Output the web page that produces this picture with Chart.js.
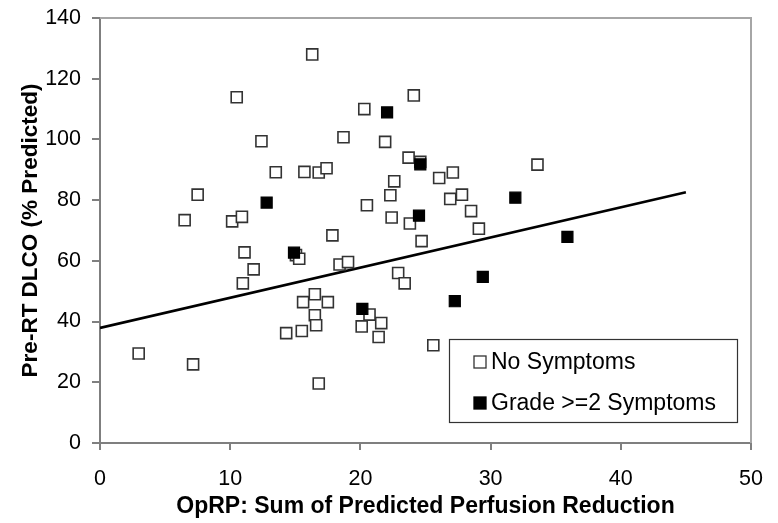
<!DOCTYPE html>
<html>
<head>
<meta charset="utf-8">
<script src="https://cdn.jsdelivr.net/npm/chart.js@4.4.0/dist/chart.umd.min.js"></script>
<style>
  html, body { margin: 0; padding: 0; background: #fff; }
  #wrap { width: 778px; height: 523px; }
</style>
</head>
<body>
<div id="wrap"><canvas id="chart-dlco" width="778" height="523"></canvas></div>
<script>
// === datos ===
const seriesLabels = ['No Symptoms', 'Grade >=2 Symptoms'];

const noSympX = [16.3, 10.5, 12.4, 18.7, 13.5, 15.7, 16.8, 17.4, 7.5, 6.5, 10.15, 10.9,
  24.1, 20.3, 21.9, 23.7, 24.6, 22.6, 22.3, 20.5, 26.05, 27.1, 33.6, 26.9, 27.8, 28.5,
  22.4, 23.8, 29.1, 11.1, 11.8, 10.97, 15.05, 15.3, 17.85, 18.4, 19.05, 16.5, 15.6, 17.5,
  16.5, 16.6, 14.3, 15.5, 2.97, 7.15, 16.8, 24.7, 22.9, 23.4, 20.7, 20.1, 21.6, 21.4, 25.6];
const noSympY = [128, 113.9, 99.4, 100.7, 89.2, 89.3, 89.1, 90.5, 81.8, 73.4, 73.0, 74.5,
  114.5, 110, 99.2, 94.0, 92.6, 86.2, 81.6, 78.3, 87.3, 89.1, 91.7, 80.4, 81.8, 76.4,
  74.3, 72.3, 70.6, 62.8, 57.2, 52.6, 61.9, 60.7, 68.4, 58.8, 59.6, 49.0, 46.4, 46.4,
  42.1, 38.8, 36.2, 36.9, 29.5, 25.9, 19.6, 66.5, 56.0, 52.6, 42.3, 38.4, 39.5, 34.9, 32.2];

const gradeX = [12.8, 22.05, 24.6, 31.9, 24.5, 14.9, 35.9, 29.4, 27.25, 20.15];
const gradeY = [79.2, 108.9, 91.8, 80.8, 74.9, 62.7, 67.9, 54.7, 46.7, 44.2];

// linea de tendencia
const fitX = [0, 45];
const fitY = [37.9, 82.6];

const xTicks = [0, 10, 20, 30, 40, 50];
const yTicks = [0, 20, 40, 60, 80, 100, 120, 140];

const FONT = "'Liberation Sans', Arial, sans-serif";
const toPoints = (xs, ys) => xs.map((x, i) => ({ x: x, y: ys[i] }));

// marco superior/derecho y leyenda con recuadro
const framePlugin = {
  id: 'frame',
  beforeDatasetsDraw(chart) {
    const { ctx, chartArea: a } = chart;
    ctx.save();
    ctx.strokeStyle = '#a6a6a6';
    ctx.lineWidth = 2;
    ctx.beginPath();
    ctx.moveTo(a.left, a.top);
    ctx.lineTo(a.right, a.top);
    ctx.lineTo(a.right, a.bottom);
    ctx.stroke();
    ctx.restore();
  },
  afterDraw(chart) {
    const { ctx, chartArea: a } = chart;
    const right = a.right - 14, bottom = a.bottom - 21;
    const w = 288, h = 83;
    const left = right - w, top = bottom - h;
    ctx.save();
    ctx.fillStyle = '#fff';
    ctx.fillRect(left, top, w, h);
    ctx.strokeStyle = '#333';
    ctx.lineWidth = 1.2;
    ctx.strokeRect(left + 0.5, top + 0.5, w, h);
    const ds = chart.data.datasets.filter(d => d.type !== 'line');
    ds.forEach((d, i) => {
      const cy = top + 23 + i * 41;
      const s = 12;
      ctx.fillStyle = d.backgroundColor;
      ctx.fillRect(left + 25, cy - s / 2, s, s);
      ctx.strokeStyle = d.borderColor;
      ctx.lineWidth = 1.3;
      ctx.strokeRect(left + 25, cy - s / 2, s, s);
      ctx.fillStyle = '#000';
      ctx.font = '23px ' + FONT;
      ctx.textBaseline = 'middle';
      ctx.fillText(d.label, left + 42, cy + 1);
    });
    ctx.restore();
  }
};

const ctx = document.getElementById('chart-dlco').getContext('2d');
const chart = new Chart(ctx, {
  type: 'scatter',
  data: {
    datasets: [
      {
        label: seriesLabels[0],
        data: toPoints(noSympX, noSympY),
        pointStyle: 'rect',
        pointRadius: 7.8,
        backgroundColor: '#ffffff',
        borderColor: '#333333',
        borderWidth: 1.6,
        order: 1
      },
      {
        label: seriesLabels[1],
        data: toPoints(gradeX, gradeY),
        pointStyle: 'rect',
        pointRadius: 7.8,
        backgroundColor: '#000000',
        borderColor: '#000000',
        borderWidth: 1.2,
        order: 0
      },
      {
        type: 'line',
        label: 'fit',
        data: toPoints(fitX, fitY),
        borderColor: '#000',
        borderWidth: 2.6,
        pointRadius: 0,
        fill: false,
        order: 2
      }
    ]
  },
  options: {
    responsive: false,
    animation: false,
    layout: { padding: { top: 18, right: 27, left: 0, bottom: 0 } },
    plugins: {
      legend: { display: false },
      tooltip: { enabled: false }
    },
    scales: {
      x: {
        type: 'linear',
        min: 0, max: 50,
        afterBuildTicks: s => { s.ticks = xTicks.map(v => ({ value: v })); },
        afterFit: s => { s.height = 80; s.paddingLeft = 0; s.paddingRight = 0; },
        grid: { drawOnChartArea: false, tickLength: 7, color: '#7f7f7f', lineWidth: 2 },
        border: { color: '#7f7f7f', width: 2 },
        ticks: { color: '#000', padding: 16, font: { family: FONT, size: 21.5 } },
        title: {
          display: true,
          text: 'OpRP: Sum of Predicted Perfusion Reduction',
          color: '#000',
          font: { family: FONT, size: 23, weight: 'bold' },
          padding: { top: 0, bottom: 3 }
        }
      },
      y: {
        type: 'linear',
        min: 0, max: 140,
        afterBuildTicks: s => { s.ticks = yTicks.map(v => ({ value: v })); },
        afterFit: s => { s.width = 100; s.paddingTop = 0; s.paddingBottom = 0; },
        grid: { drawOnChartArea: false, tickLength: 8, color: '#7f7f7f', lineWidth: 2 },
        border: { color: '#7f7f7f', width: 2 },
        ticks: { color: '#000', padding: 11, font: { family: FONT, size: 21.5 } },
        title: {
          display: true,
          text: 'Pre-RT DLCO (% Predicted)',
          color: '#000',
          font: { family: FONT, size: 22.5, weight: 'bold' },
          padding: { top: 17, bottom: 0 }
        }
      }
    }
  },
  plugins: [framePlugin]
});
</script>
</body>
</html>
